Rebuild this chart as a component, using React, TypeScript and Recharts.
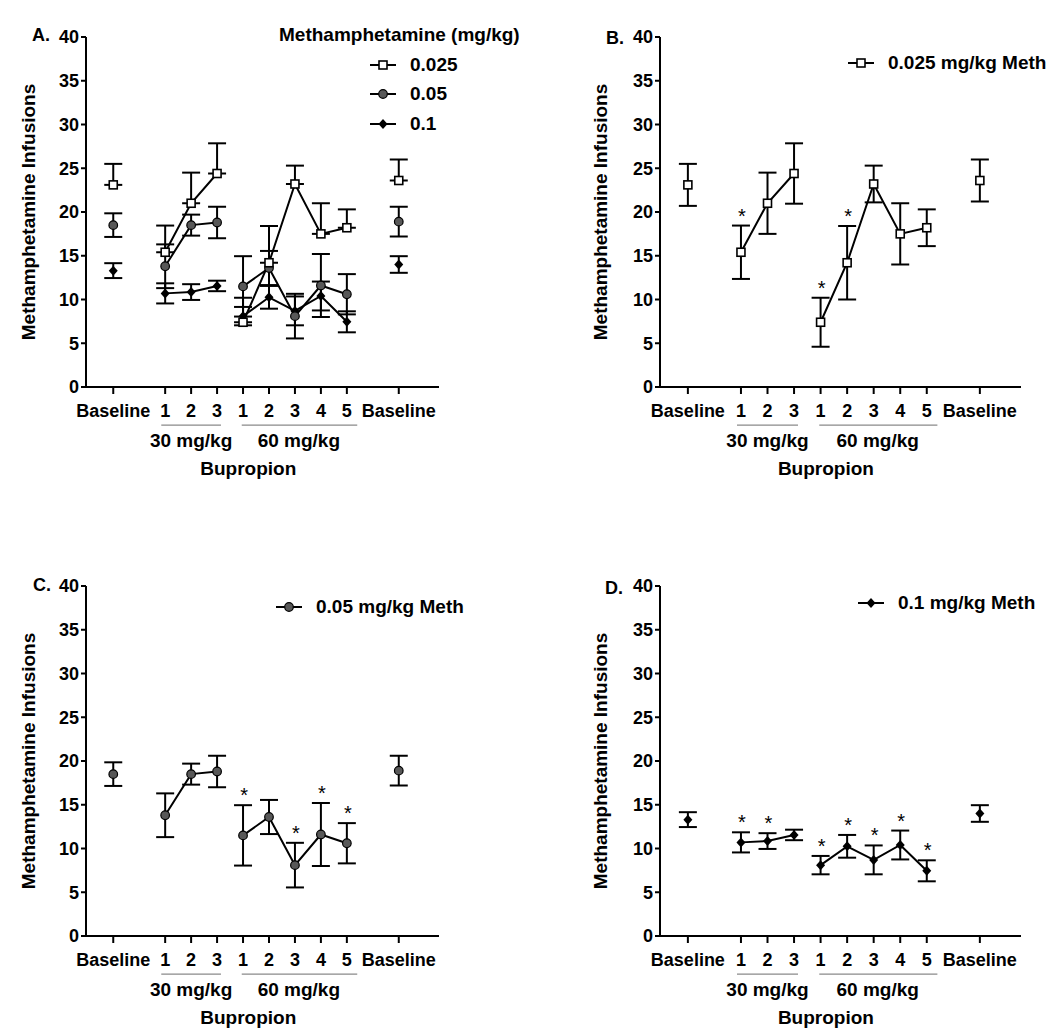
import React from "react";
import {
  ComposedChart,
  ErrorBar,
  Legend,
  Line,
  ReferenceDot,
  ReferenceLine,
  Scatter,
  XAxis,
  YAxis,
} from "recharts";

// session order on the x axis (gaps between groups are empty slots)
const sessionLabels = ["Baseline", "1", "2", "3", "1", "2", "3", "4", "5", "Baseline"];
const sessionSlots = [0, 2, 3, 4, 5, 6, 7, 8, 9, 11];
const sessionPhase = ["base", "30", "30", "30", "60", "60", "60", "60", "60", "base"];
const groupLabels = ["30 mg/kg", "60 mg/kg"];
const yTicks = [0, 5, 10, 15, 20, 25, 30, 35, 40];

// methamphetamine infusions, mean and SEM
const meth025Mean = [23.1, 15.4, 21.0, 24.4, 7.4, 14.2, 23.2, 17.5, 18.2, 23.6];
const meth025Err = [2.4, 3.05, 3.5, 3.45, 2.8, 4.2, 2.1, 3.5, 2.1, 2.4];
const meth025Star = [0, 1, 0, 0, 1, 1, 0, 0, 0, 0];

const meth05Mean = [18.5, 13.8, 18.5, 18.8, 11.5, 13.6, 8.1, 11.6, 10.6, 18.9];
const meth05Err = [1.35, 2.5, 1.2, 1.8, 3.45, 1.95, 2.55, 3.6, 2.3, 1.7];
const meth05Star = [0, 0, 0, 0, 1, 0, 1, 1, 1, 0];

const meth1Mean = [13.3, 10.7, 10.85, 11.55, 8.1, 10.25, 8.7, 10.4, 7.45, 14.0];
const meth1Err = [0.85, 1.15, 0.9, 0.6, 1.05, 1.3, 1.65, 1.65, 1.2, 0.95];
const meth1Star = [0, 1, 1, 0, 1, 1, 1, 1, 1, 0];

const FONT = '"Liberation Sans", Arial, Helvetica, sans-serif';
const X_DOMAIN: [number, number] = [-1.05, 12.55];
// group annotations below the axis, in axis units
const GROUP_CENTERS = [3, 7.15];
const GROUP_SPANS = [
  [1.85, 4.15],
  [4.95, 9.4],
];
const UNDERLINE_Y = -4.35;
const GROUP_LABEL_Y = -6.05;
const TITLE_X = 5.2;
const TITLE_Y = -9.25;

type Series = {
  key: string;
  mean: number[];
  err: number[];
  stars: number[];
  shape: string;
};

const s025: Series = { key: "s025", mean: meth025Mean, err: meth025Err, stars: meth025Star, shape: "square" };
const s05: Series = { key: "s05", mean: meth05Mean, err: meth05Err, stars: meth05Star, shape: "circle" };
const s1: Series = { key: "s1", mean: meth1Mean, err: meth1Err, stars: meth1Star, shape: "diamond" };

const Marker = ({ kind, cx, cy }: { kind: string; cx: number; cy: number }) => {
  if (cx == null || cy == null || isNaN(cx) || isNaN(cy)) return <g />;
  if (kind === "square")
    return <rect x={cx - 4} y={cy - 4} width={8} height={8} fill="#fff" stroke="#000" strokeWidth={1.6} />;
  if (kind === "circle")
    return <circle cx={cx} cy={cy} r={4.3} fill="#585858" stroke="#000" strokeWidth={1.2} />;
  return <path d={`M${cx},${cy - 5} L${cx + 4.5},${cy} L${cx},${cy + 5} L${cx - 4.5},${cy} Z`} fill="#000" />;
};

const StarMark = (props: any) => {
  const { cx, cy } = props;
  if (cx == null || cy == null || isNaN(cx) || isNaN(cy)) return <g />;
  return (
    <text x={cx + 1} y={cy - 3} textAnchor="middle" fontSize={20} fontFamily={FONT} fill="#000">
      *
    </text>
  );
};

type Panel = {
  letter: string;
  left: number;
  top: number;
  width: number;
  axisX: number;
  plotRight: number;
  labelX: number;
  series: Series[];
  upOnly: string[];
  showStars: boolean;
  legendTitle?: string;
  legendItems: { s: Series; label: string }[];
  legendLeft: number;
  legendTop: number;
  letterLeft: number;
  letterTop: number;
};

const panels: Panel[] = [
  {
    letter: "A.", left: 0, top: 0, width: 520, axisX: 86, plotRight: 439, labelX: 28,
    series: [s1, s05, s025], upOnly: ["s025"], showStars: false,
    legendTitle: "Methamphetamine (mg/kg)",
    legendItems: [
      { s: s025, label: "0.025" },
      { s: s05, label: "0.05" },
      { s: s1, label: "0.1" },
    ],
    legendLeft: 279, legendTop: 20, letterLeft: 32, letterTop: 24,
  },
  {
    letter: "B.", left: 520, top: 0, width: 530, axisX: 140, plotRight: 501, labelX: 80,
    series: [s025], upOnly: [], showStars: true,
    legendItems: [{ s: s025, label: "0.025 mg/kg Meth" }],
    legendLeft: 328, legendTop: 48, letterLeft: 86, letterTop: 27,
  },
  {
    letter: "C.", left: 0, top: 549, width: 520, axisX: 86, plotRight: 439, labelX: 28,
    series: [s05], upOnly: [], showStars: true,
    legendItems: [{ s: s05, label: "0.05 mg/kg Meth" }],
    legendLeft: 276, legendTop: 43, letterLeft: 33, letterTop: 25,
  },
  {
    letter: "D.", left: 520, top: 549, width: 530, axisX: 140, plotRight: 501, labelX: 80,
    series: [s1], upOnly: [], showStars: true,
    legendItems: [{ s: s1, label: "0.1 mg/kg Meth" }],
    legendLeft: 338, legendTop: 39, letterLeft: 85, letterTop: 28,
  },
];

const buildRows = (p: Panel) =>
  sessionSlots.map((x, i) => {
    const row: Record<string, any> = { x };
    p.series.forEach((s) => {
      const m = s.mean[i];
      const e = s.err[i];
      row[`${s.key}_m`] = m;
      row[`${s.key}_e`] = p.upOnly.includes(s.key) ? [0, e] : e;
      row[`${s.key}_30`] = sessionPhase[i] === "30" ? m : null;
      row[`${s.key}_60`] = sessionPhase[i] === "60" ? m : null;
      row[`${s.key}_s`] = p.showStars && s.stars[i] ? m + e : null;
    });
    return row;
  });

const LegendBox = ({ p }: { p: Panel }) => (
  <div style={{ fontFamily: FONT, fontWeight: 700, color: "#000" }}>
    {p.legendTitle && (
      <div style={{ fontSize: 19, lineHeight: "30px", height: 30, whiteSpace: "nowrap" }}>{p.legendTitle}</div>
    )}
    {p.legendItems.map((it) => (
      <div
        key={it.label}
        style={{
          display: "flex",
          alignItems: "center",
          height: 29.5,
          marginLeft: p.legendTitle ? 91 : 0,
          whiteSpace: "nowrap",
        }}
      >
        <svg width={26} height={14} style={{ display: "block" }}>
          <line x1={0} y1={7} x2={26} y2={7} stroke="#000" strokeWidth={2} />
          <Marker kind={it.s.shape} cx={13} cy={7} />
        </svg>
        <span style={{ fontSize: 19, marginLeft: 14 }}>{it.label}</span>
      </div>
    ))}
  </div>
);

const tickStyle = { fill: "#000", fontSize: 18, fontWeight: 700, fontFamily: FONT };
const titleStyle = { fill: "#000", fontSize: 19, fontWeight: 700, fontFamily: FONT };

const PanelChart = ({ p }: { p: Panel }) => {
  const rows = buildRows(p);
  const marginLeft = p.labelX - 8;
  return (
    <div style={{ position: "absolute", left: p.left, top: p.top, width: p.width, height: 500 }}>
      <ComposedChart
        width={p.width}
        height={500}
        data={rows}
        margin={{ top: 37, right: p.width - p.plotRight, bottom: 83, left: marginLeft }}
      >
        <XAxis
          dataKey="x"
          type="number"
          domain={X_DOMAIN}
          allowDataOverflow
          ticks={sessionSlots}
          interval={0}
          tickFormatter={(v: number) => sessionLabels[sessionSlots.indexOf(v)]}
          height={30}
          tickSize={7}
          tickMargin={10}
          axisLine={{ stroke: "#000", strokeWidth: 2 }}
          tickLine={{ stroke: "#000", strokeWidth: 2 }}
          tick={tickStyle}
        />
        <YAxis
          type="number"
          domain={[0, 40]}
          allowDataOverflow
          ticks={yTicks}
          interval={0}
          width={p.axisX - marginLeft}
          tickSize={5}
          tickMargin={2}
          axisLine={{ stroke: "#000", strokeWidth: 2 }}
          tickLine={{ stroke: "#000", strokeWidth: 2 }}
          tick={tickStyle}
          label={{
            value: "Methamphetamine Infusions",
            angle: -90,
            position: "insideLeft",
            offset: 8,
            style: { ...titleStyle, textAnchor: "middle" },
          }}
        />
        {GROUP_SPANS.map(([a, b], i) => (
          <ReferenceLine
            key={`u${i}`}
            segment={[
              { x: a, y: UNDERLINE_Y },
              { x: b, y: UNDERLINE_Y },
            ]}
            stroke="#8a8a8a"
            strokeWidth={1.2}
            ifOverflow="visible"
          />
        ))}
        {GROUP_CENTERS.map((c, i) => (
          <ReferenceDot
            key={`g${i}`}
            x={c}
            y={GROUP_LABEL_Y}
            r={0}
            fill="none"
            stroke="none"
            ifOverflow="visible"
            label={{ value: groupLabels[i], position: "center", style: titleStyle }}
          />
        ))}
        <ReferenceDot
          x={TITLE_X}
          y={TITLE_Y}
          r={0}
          fill="none"
          stroke="none"
          ifOverflow="visible"
          label={{ value: "Bupropion", position: "center", style: titleStyle }}
        />
        {p.series.map((s) => (
          <Line
            key={`${s.key}_30`}
            dataKey={`${s.key}_30`}
            stroke="#000"
            strokeWidth={2}
            dot={false}
            activeDot={false}
            connectNulls={false}
            legendType="none"
            isAnimationActive={false}
          />
        ))}
        {p.series.map((s) => (
          <Line
            key={`${s.key}_60`}
            dataKey={`${s.key}_60`}
            stroke="#000"
            strokeWidth={2}
            dot={false}
            activeDot={false}
            connectNulls={false}
            legendType="none"
            isAnimationActive={false}
          />
        ))}
        {p.series.map((s) => (
          <Scatter
            key={`${s.key}_m`}
            dataKey={`${s.key}_m`}
            shape={(props: any) => <Marker kind={s.shape} cx={props.cx} cy={props.cy} />}
            legendType="none"
            isAnimationActive={false}
          >
            <ErrorBar dataKey={`${s.key}_e`} direction="y" width={9} strokeWidth={2} stroke="#000" />
          </Scatter>
        ))}
        {p.showStars &&
          p.series.map((s) => (
            <Scatter
              key={`${s.key}_s`}
              dataKey={`${s.key}_s`}
              shape={StarMark}
              legendType="none"
              isAnimationActive={false}
            />
          ))}
        <Legend
          layout="horizontal"
          verticalAlign="middle"
          align="center"
          wrapperStyle={{ left: p.legendLeft, top: p.legendTop, width: 260 }}
          content={() => <LegendBox p={p} />}
        />
      </ComposedChart>
      <div
        style={{
          position: "absolute",
          left: p.letterLeft,
          top: p.letterTop,
          fontFamily: FONT,
          fontWeight: 700,
          fontSize: 18,
          lineHeight: "22px",
          color: "#000",
        }}
      >
        {p.letter}
      </div>
    </div>
  );
};

export default function App() {
  return (
    <div
      style={{
        position: "absolute",
        left: 0,
        top: 0,
        width: 1050,
        height: 1036,
        background: "#fff",
        overflow: "hidden",
      }}
    >
      {panels.map((p) => (
        <PanelChart key={p.letter} p={p} />
      ))}
    </div>
  );
}
